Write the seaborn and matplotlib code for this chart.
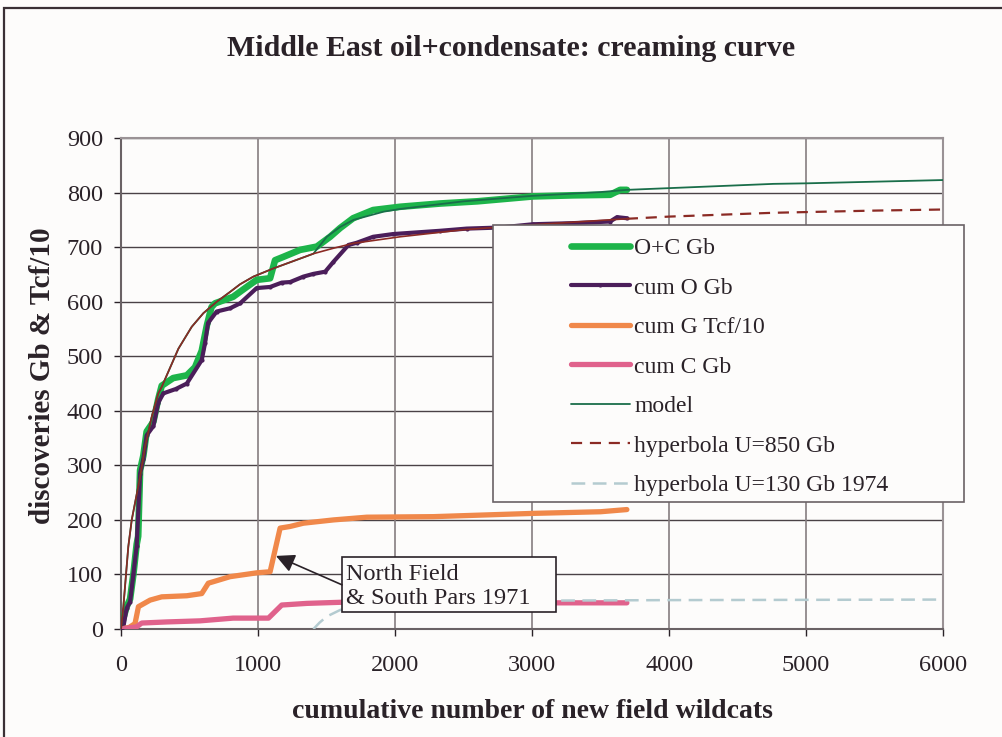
import matplotlib
matplotlib.use("Agg")
import matplotlib.pyplot as plt
import matplotlib.patches as patches
import seaborn as sns

# values
oc_x = [0, 17, 41, 66, 90, 114, 125, 139, 163, 187, 236, 272, 297, 380, 480, 540, 589, 626, 660, 686,
        818, 917, 990, 1088, 1124, 1183, 1307, 1429, 1526, 1599, 1694, 1840, 2037, 2330, 2600, 3007,
        3300, 3570, 3643, 3692]
oc_y = [0, 20, 41, 55, 100, 155, 170, 291, 318, 362, 380, 422, 446, 460, 465, 480, 510, 556, 590, 597,
        609, 627, 640, 643, 676, 682, 695, 701, 719, 735, 753, 768, 774, 780, 784, 793,
        795, 796, 805, 805]

oil_x = [0, 17, 41, 66, 90, 114, 139, 163, 187, 236, 272, 309, 400, 480, 589, 613, 635, 698, 796, 869,
         990, 1088, 1173, 1234, 1331, 1404, 1490, 1550, 1660, 1720, 1840, 1986, 2330, 2523, 2767,
         3007, 3300, 3570, 3620, 3692]
oil_y = [0, 4, 38, 50, 100, 152, 285, 312, 355, 372, 415, 432, 440, 450, 493, 524, 561, 582, 588, 597,
         625, 627, 635, 636, 646, 651, 655, 673, 704, 708, 719, 724, 730, 734, 736,
         742, 744, 747, 755, 753]

gas_x = [0, 60, 102, 127, 212, 297, 480, 589, 637, 796, 990, 1088, 1161, 1234, 1331, 1550, 1794,
         2280, 3010, 3500, 3692]
gas_y = [0, 3, 10, 41, 53, 59, 61, 65, 84, 96, 103, 105, 185, 188, 194, 200, 205,
         206, 212, 215, 219]

cond_x = [0, 114, 151, 334, 577, 818, 1076, 1173, 1356, 1599, 2000, 3010, 3692]
cond_y = [0, 4, 11, 13, 15, 20, 20, 44, 47, 49, 49, 48, 48]

model_x = [0, 17, 53, 78, 102, 139, 175, 224, 272, 297, 419, 516, 601, 699, 796, 869, 966, 1112,
           1307, 1404, 1502, 1599, 1697, 1916, 2037, 2500, 3000, 3500, 3692, 4762, 5005, 6000]
model_y = [0, 41, 151, 200, 231, 279, 334, 389, 432, 444, 514, 554, 579, 600, 618, 632, 646, 661,
           679, 688, 719, 737, 750, 765, 770, 784, 794, 801, 805, 816, 817, 823]

hyp850_x = [0, 17, 53, 78, 102, 139, 175, 224, 272, 297, 419, 516, 601, 699, 796, 869, 966, 1112,
            1307, 1404, 1550, 1696, 2037, 2500, 3000, 3500, 3692]
hyp850_y = [0, 41, 151, 200, 231, 279, 334, 389, 432, 444, 514, 554, 579, 600, 618, 632, 646, 661,
            679, 688, 698, 707, 719, 732, 741, 749, 752]
hyp850_ext_x = [3692, 4000, 4762, 5500, 6000]
hyp850_ext_y = [752, 756, 763, 767, 769]

hyp130_x = [1404, 1450, 1502, 1600, 1700, 1800, 2000, 2500, 3000, 3500, 4000, 5000, 6000]
hyp130_y = [0, 12, 23, 35, 42, 46, 49, 51, 52, 52.5, 53, 53.5, 54]

x_ticks = [0, 1000, 2000, 3000, 4000, 5000, 6000]
y_ticks = [0, 100, 200, 300, 400, 500, 600, 700, 800, 900]

sns.set_theme(style="white")
plt.rcParams['font.family'] = ['Liberation Serif', 'DejaVu Serif']
ink = '#2a2228'
bg = '#fdfcfb'

fig = plt.figure(figsize=(10.02, 7.37), dpi=100, facecolor=bg)
ax = fig.add_axes([0.1208, 0.1465, 0.8204, 0.6662], facecolor=bg)

# grid
for v in y_ticks[1:]:
    ax.axhline(v, color='#4a4246', lw=1.0, zorder=1)
for v in x_ticks[1:]:
    ax.axvline(v, color='#857d80', lw=1.2, zorder=1)

sns.lineplot(x=oc_x, y=oc_y, ax=ax, color='#1db44a', lw=4.8, sort=False, estimator=None,
             label='O+C Gb', zorder=3)
sns.lineplot(x=oil_x, y=oil_y, ax=ax, color='#4b1e5a', lw=3.0, sort=False, estimator=None,
             marker='o', markersize=3, markeredgewidth=0, label='cum O Gb', zorder=3)
sns.lineplot(x=gas_x, y=gas_y, ax=ax, color='#f0884a', lw=3.8, sort=False, estimator=None,
             label='cum G Tcf/10', zorder=3)
sns.lineplot(x=cond_x, y=cond_y, ax=ax, color='#e0628c', lw=3.8, sort=False, estimator=None,
             label='cum C Gb', zorder=3)
sns.lineplot(x=model_x, y=model_y, ax=ax, color='#1a6e4a', lw=1.3, sort=False, estimator=None,
             label='model', zorder=3)
sns.lineplot(x=hyp850_x, y=hyp850_y, ax=ax, color='#8b2a24', lw=1.2, sort=False, estimator=None,
             zorder=3)
sns.lineplot(x=hyp850_ext_x, y=hyp850_ext_y, ax=ax, color='#8b2a24', lw=1.6, sort=False,
             estimator=None, label='hyperbola U=850 Gb', zorder=3)
sns.lineplot(x=hyp130_x, y=hyp130_y, ax=ax, color='#b4cbd0', lw=1.8, sort=False, estimator=None,
             label='hyperbola U=130 Gb 1974', zorder=3)
ax.lines[-2].set_dashes((5, 3.5))
ax.lines[-1].set_dashes((5.5, 3))

ax.set_xlim(0, 6000)
ax.set_ylim(0, 900)
ax.set_xticks(x_ticks)
ax.set_yticks(y_ticks)
ax.tick_params(axis='both', direction='out', length=5, width=1, color=ink,
               labelsize=17.5, labelcolor=ink, left=True, bottom=True)
ax.tick_params(axis='x', pad=14)
ax.tick_params(axis='y', pad=8)
for s in ['top', 'right']:
    ax.spines[s].set_color('#9a9295')
    ax.spines[s].set_linewidth(1.5)
for s in ['left', 'bottom']:
    ax.spines[s].set_color('#6a6265')
    ax.spines[s].set_linewidth(1.5)
ax.set_xlabel('')
ax.set_ylabel('')

# legend box (extends beyond the plot area)
box = patches.Rectangle((0.4526, 0.259), 0.5725, 0.564, transform=ax.transAxes,
                        facecolor=bg, edgecolor='#6a6265', lw=1.2, zorder=6, clip_on=False)
ax.add_patch(box)
handles, labels = ax.get_legend_handles_labels()
leg = ax.legend(handles, labels, loc='upper left', bbox_to_anchor=(0.547, 0.797),
                frameon=False, fontsize=17, handlelength=2.5, handletextpad=0.2,
                labelspacing=0.76, borderpad=0, borderaxespad=0)
leg.set_zorder(7)
for t in leg.get_texts():
    t.set_color(ink)

# annotation
ann_box = patches.Rectangle((1613, 31), 1562, 101, facecolor=bg, edgecolor=ink, lw=1.2, zorder=6)
ax.add_patch(ann_box)
ax.text(1640, 78, 'North Field\n& South Pars 1971', fontsize=17.5, color=ink, ha='left',
        va='center', linespacing=1.2, zorder=7)
ax.annotate('', xy=(1131, 134), xytext=(1613, 81),
            arrowprops=dict(arrowstyle='-|>', mutation_scale=28, color=ink, lw=1.2,
                            shrinkA=0, shrinkB=0), zorder=7)

fig.text(0.5105, 1 - 48 / 737, 'Middle East oil+condensate: creaming curve', fontsize=21.5,
         fontweight='bold', color=ink, ha='center', va='center')
fig.text(0.531, 1 - 712 / 737, 'cumulative number of new field wildcats', fontsize=20,
         fontweight='bold', color=ink, ha='center', va='center')
fig.text(0.042, 1 - 376 / 737, 'discoveries Gb & Tcf/10', fontsize=21, fontweight='bold',
         color=ink, ha='center', va='center', rotation=90)

frame = patches.Rectangle((0.004, -0.05), 1.2, 1.05 - 8 / 737, transform=fig.transFigure,
                          fill=False, edgecolor='#3a3035', lw=1.6)
fig.patches.append(frame)

fig.savefig('out.png', dpi=100, facecolor=bg)
